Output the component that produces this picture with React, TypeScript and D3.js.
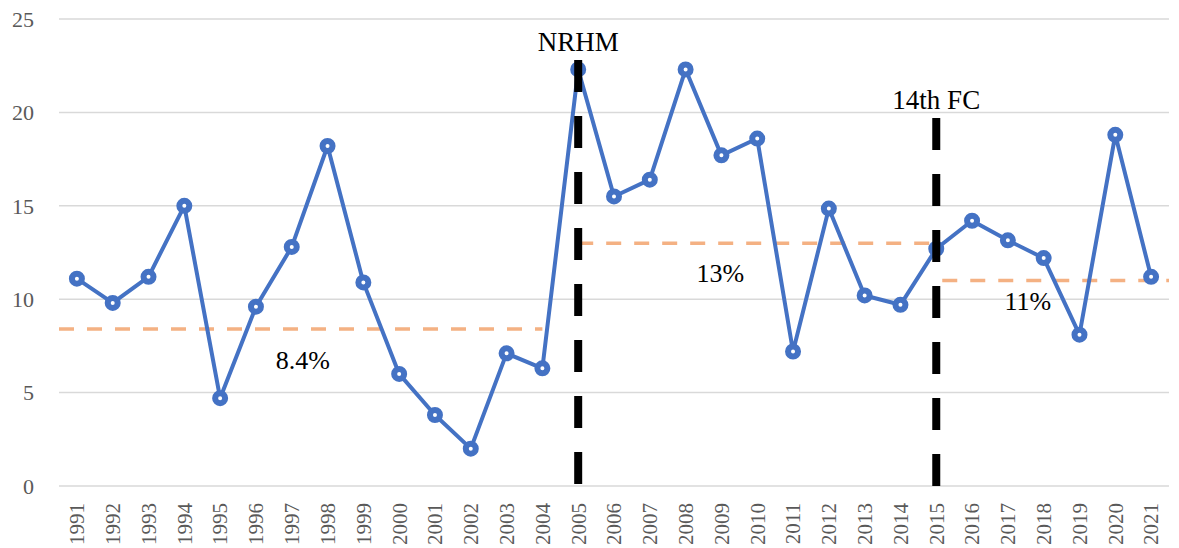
import React from 'react';
import * as d3 from 'd3';

const width = 1179;
const height = 548;
const margin = { top: 19, right: 10, bottom: 62, left: 59 };
const blue = '#4472c4';
const orange = '#f4b183';
const grid = '#d9d9d9';
const tickColor = '#595959';
const font = 'Liberation Serif, DejaVu Serif, serif';

const years = [
  '1991', '1992', '1993', '1994', '1995', '1996', '1997', '1998', '1999', '2000',
  '2001', '2002', '2003', '2004', '2005', '2006', '2007', '2008', '2009', '2010',
  '2011', '2012', '2013', '2014', '2015', '2016', '2017', '2018', '2019', '2020', '2021',
];
const growth = [
  11.1, 9.8, 11.2, 15.0, 4.7, 9.6, 12.8, 18.2, 10.9, 6.0,
  3.8, 2.0, 7.1, 6.3, 22.3, 15.5, 16.4, 22.3, 17.7, 18.6,
  7.2, 14.85, 10.2, 9.7, 12.7, 14.2, 13.15, 12.2, 8.1, 18.8, 11.2,
];
const yTicks = [0, 5, 10, 15, 20, 25];

// policy markers (vertical dashed lines)
const events = [
  { year: '2005', label: 'NRHM', top: 22.8 },
  { year: '2015', label: '14th FC', top: 19.7 },
];
// period averages
const averages = [
  { from: '1991', to: '2004', value: 8.4, label: '8.4%' },
  { from: '2005', to: '2015', value: 13, label: '13%' },
  { from: '2015', to: '2021', value: 11, label: '11%' },
];

const data = years.map((y, i) => ({ year: y, value: growth[i] }));

export default function App() {
  const xScale = d3.scaleBand<string>()
    .domain(years)
    .range([margin.left, width - margin.right]);
  const yScale = d3.scaleLinear()
    .domain([0, 25])
    .range([height - margin.bottom, margin.top]);
  const cx = (y: string) => (xScale(y) as number) + xScale.bandwidth() / 2;

  const line = d3.line<{ year: string; value: number }>()
    .x(d => cx(d.year))
    .y(d => yScale(d.value));

  // segment extents for the average lines
  const avgX = [
    [margin.left, cx(averages[0].to)],
    [cx(averages[1].from), cx(averages[1].to)],
    [cx(averages[2].from) + 6, width - margin.right],
  ];
  const avgLabelPos = [
    { x: cx('1997') + 11, dy: 40 },
    { x: cx('2009') - 1, dy: 39 },
    { x: cx('2017') + 20, dy: 29 },
  ];

  return (
    <svg width={width} height={height} style={{ position: 'absolute', left: 0, top: 0 }}>
      <rect width={width} height={height} fill="#fff" />
      {/* gridlines */}
      <g>
        {yTicks.map(t => (
          <g key={t}>
            <line x1={margin.left} x2={width - margin.right} y1={yScale(t)} y2={yScale(t)}
              stroke={grid} strokeWidth={1.5} />
            <text x={34} y={yScale(t)} dy="0.35em" textAnchor="end" fill={tickColor}
              fontFamily={font} fontSize={22}>{t}</text>
          </g>
        ))}
      </g>
      {/* x labels */}
      <g>
        {years.map(y => (
          <text key={y} transform={`translate(${cx(y)}, ${height - margin.bottom + 17}) rotate(-90)`}
            dy="0.35em" textAnchor="end" fill={tickColor} fontFamily={font} fontSize={21}>{y}</text>
        ))}
      </g>
      {/* averages */}
      <g>
        {averages.map((a, i) => (
          <g key={a.label}>
            <line x1={avgX[i][0]} x2={avgX[i][1]} y1={yScale(a.value)} y2={yScale(a.value)}
              stroke={orange} strokeWidth={3.5} strokeDasharray="15,13" />
            <text x={avgLabelPos[i].x} y={yScale(a.value) + avgLabelPos[i].dy} textAnchor="middle"
              fill="#000" fontFamily={font} fontSize={26}>{a.label}</text>
          </g>
        ))}
      </g>
      {/* series */}
      <path d={line(data) || ''} fill="none" stroke={blue} strokeWidth={4} strokeLinejoin="round" />
      {data.map(d => (
        <circle key={d.year} cx={cx(d.year)} cy={yScale(d.value)} r={5} fill="#fff"
          stroke={blue} strokeWidth={6} />
      ))}
      {/* events */}
      <g>
        {events.map(e => (
          <g key={e.label}>
            <line x1={cx(e.year)} x2={cx(e.year)} y1={yScale(e.top)} y2={yScale(0)}
              stroke="#000" strokeWidth={8} strokeDasharray="32,24" />
            <text x={cx(e.year)} y={yScale(e.top) - 9} textAnchor="middle" fill="#000"
              fontFamily={font} fontSize={27}>{e.label}</text>
          </g>
        ))}
      </g>
    </svg>
  );
}
